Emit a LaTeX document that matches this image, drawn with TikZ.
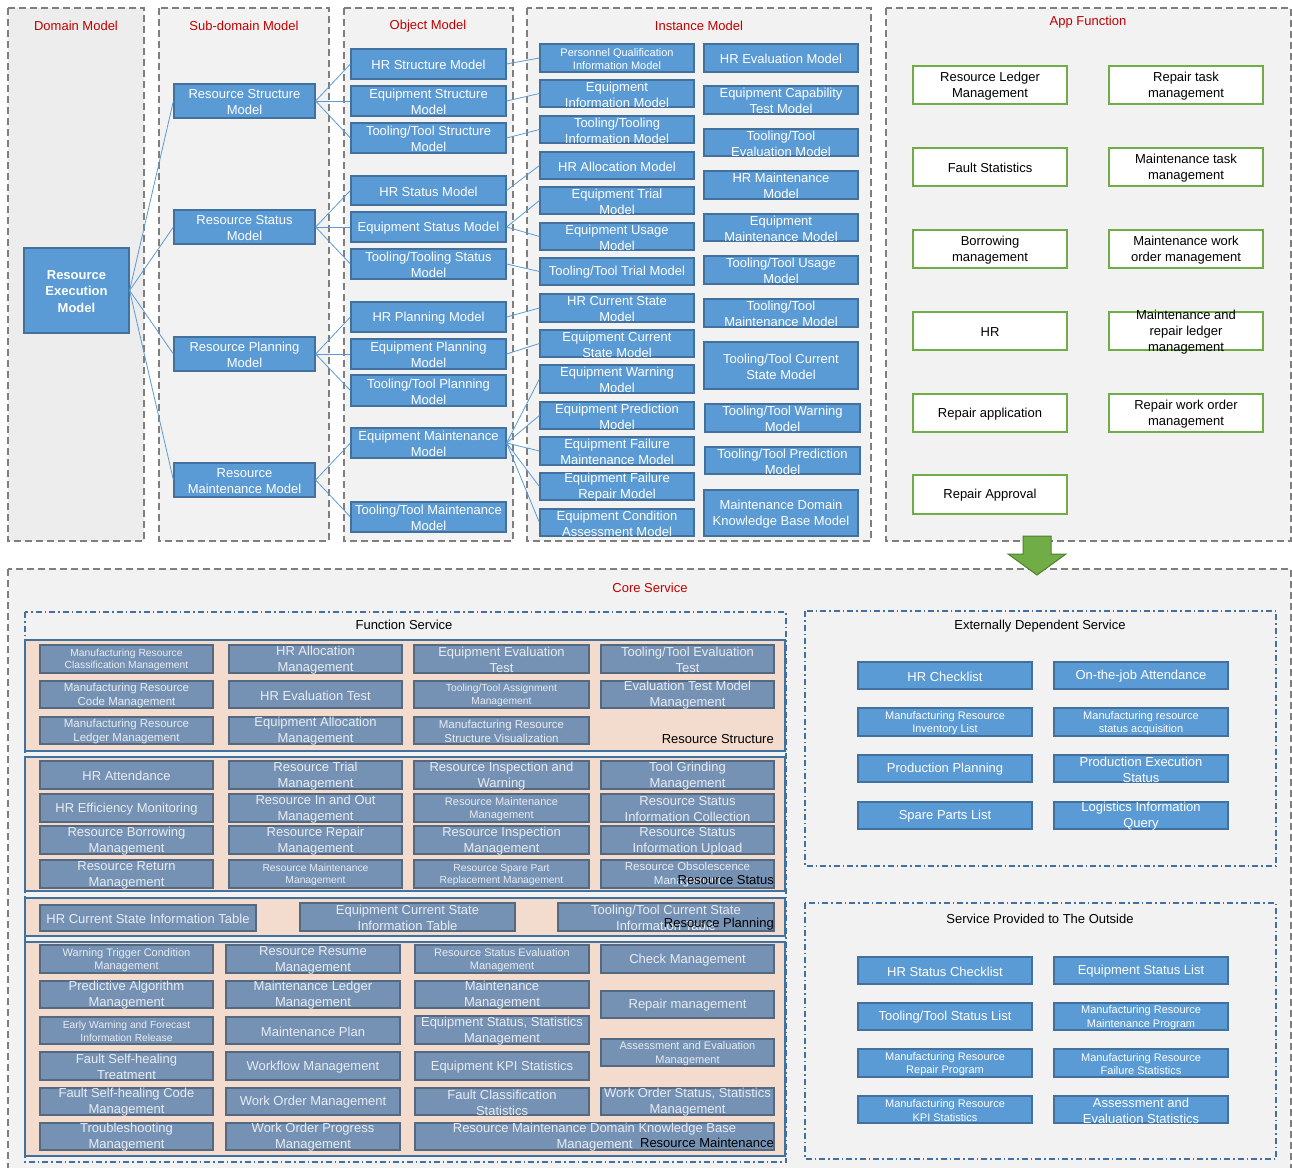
\documentclass[tikz,border=0pt]{standalone}
\usepackage{fontspec}
\setmainfont{Liberation Sans}
\definecolor{pbg}{HTML}{F2F2F2}
\definecolor{pbgd}{HTML}{EDEDED}
\definecolor{dgray}{HTML}{7F7F7F}
\definecolor{tred}{HTML}{C00000}
\definecolor{bfill}{HTML}{5B9BD5}
\definecolor{bdark}{HTML}{41719C}
\definecolor{ggreen}{HTML}{70AD47}
\definecolor{gdark}{HTML}{507E32}
\definecolor{sfill}{RGB}{117,146,180}
\definecolor{sdark}{RGB}{84,104,128}
\definecolor{stext}{RGB}{232,236,242}
\definecolor{sblue}{HTML}{41719C}
\definecolor{peach}{RGB}{243,220,206}
% font sizes
\newcommand\fA{\fontsize{13}{16}\selectfont}
\newcommand\fB{\fontsize{11}{13.5}\selectfont}
\newcommand\fC{\fontsize{10.3}{12.5}\selectfont}
\newcommand\fD{\fontsize{11.5}{14}\selectfont}
\newcommand\fR{\bfseries\fontsize{13}{16.5}\selectfont}
% box: [font]{kind}{name}{x1}{y1}{x2}{y2}{text}
\newcommand\bx[8][\fA]{%
  \node[#2, minimum width={#6-#4}, minimum height={#7-#5}] (#3) at ({(#4+#6)/2},{(#5+#7)/2}) {};%
  \node[#2 txt, font=#1] at (#3.center) {#8};}
\tikzset{
  panel/.style={draw=dgray, dash pattern=on 7pt off 4pt, line width=1.8pt, fill=pbg},
  ttl/.style={text=tred, font=\fA, inner sep=0, yshift=-1pt},
  hdr/.style={text=black, font=\fA, inner sep=0, yshift=-1pt},
  bb/.style={draw=bdark, fill=bfill, line width=1.2pt, inner sep=0},
  bb txt/.style={text=white, align=center, inner sep=0, yshift=-1pt},
  gb/.style={draw=ggreen, fill=white, line width=1.5pt, inner sep=0},
  gb txt/.style={text=black, align=center, inner sep=0, yshift=-1pt},
  sb/.style={draw=sdark, fill=sfill, line width=1.2pt, inner sep=0},
  sb txt/.style={text=stext, align=center, inner sep=0, yshift=-1pt},
  conn/.style={draw=bfill, line width=0.8pt},
  svc/.style={draw=sblue, line width=1.2pt, dash pattern=on 6pt off 3pt on 1.5pt off 3pt, fill=pbg},
  band/.style={draw=sblue, fill=peach, line width=1.2pt},
  bandlbl/.style={anchor=east, font=\fA, text=black, inner sep=0, yshift=-1pt},
}
\begin{document}
\begin{tikzpicture}[x=1pt,y=-1pt]
\useasboundingbox (0,0) rectangle (1292,1167);
\fill[white] (0,0) rectangle (1292,1167);

% ---------- upper panels ----------
\path[panel, fill=pbgd] (8,8) rectangle (144,541);
\path[panel] (159,8) rectangle (329,541);
\path[panel] (344,8) rectangle (513,541);
\path[panel] (527,8) rectangle (871,541);
\path[panel] (886,8) rectangle (1291,541);
\node[ttl] (t-dom) at (76,25) {Domain Model};
\node[ttl] (t-sub) at (244,25) {Sub-domain Model};
\node[ttl] (t-obj) at (428,25) {Object Model};
\node[ttl] (t-ins) at (699,25) {Instance Model};
\node[ttl] (t-app) at (1088,21) {App Function};

% domain
\bx[\fR]{bb}{rem}{24}{248}{129}{333}{Resource\\Execution\\Model}
% sub-domain
\bx{bb}{rs}{174}{84}{315}{118}{Resource Structure\\Model}
\bx{bb}{rst}{174}{210}{315}{244}{Resource Status\\Model}
\bx{bb}{rp}{174}{337}{315}{371}{Resource Planning\\Model}
\bx{bb}{rm}{174}{463}{315}{497}{Resource\\Maintenance Model}
% object
\bx{bb}{o1}{351}{49}{506}{79}{HR Structure Model}
\bx{bb}{o2}{351}{86}{506}{116}{Equipment Structure\\Model}
\bx{bb}{o3}{351}{123}{506}{153}{Tooling/Tool Structure\\Model}
\bx{bb}{o4}{351}{176}{506}{205}{HR Status Model}
\bx{bb}{o5}{351}{212}{506}{242}{Equipment Status Model}
\bx{bb}{o6}{351}{249}{506}{279}{Tooling/Tooling Status\\Model}
\bx{bb}{o7}{351}{302}{506}{332}{HR Planning Model}
\bx{bb}{o8}{351}{339}{506}{369}{Equipment Planning\\Model}
\bx{bb}{o9}{351}{375}{506}{406}{Tooling/Tool Planning\\Model}
\bx{bb}{o10}{351}{428}{506}{458}{Equipment Maintenance\\Model}
\bx{bb}{o11}{351}{502}{506}{532}{Tooling/Tool Maintenance\\Model}
% instance, left column
\bx[\fB]{bb}{i1}{540}{44}{694}{72}{Personnel Qualification\\Information Model}
\bx{bb}{i2}{540}{80}{694}{107}{Equipment\\Information Model}
\bx{bb}{i3}{540}{116}{694}{143}{Tooling/Tooling\\Information Model}
\bx{bb}{i4}{540}{152}{694}{179}{HR Allocation Model}
\bx{bb}{i5}{540}{187}{694}{214}{Equipment Trial\\Model}
\bx{bb}{i6}{540}{223}{694}{250}{Equipment Usage\\Model}
\bx{bb}{i7}{540}{258}{694}{285}{Tooling/Tool Trial Model}
\bx{bb}{i8}{540}{294}{694}{322}{HR Current State\\Model}
\bx{bb}{i9}{540}{330}{694}{357}{Equipment Current\\State Model}
\bx{bb}{i10}{540}{365}{694}{393}{Equipment Warning\\Model}
\bx{bb}{i11}{540}{402}{694}{429}{Equipment Prediction\\Model}
\bx{bb}{i12}{540}{437}{694}{465}{Equipment Failure\\Maintenance Model}
\bx{bb}{i13}{540}{473}{694}{500}{Equipment Failure\\Repair Model}
\bx{bb}{i14}{540}{509}{694}{536}{Equipment Condition\\Assessment Model}
% instance, right column
\bx{bb}{j1}{704}{44}{858}{72}{HR Evaluation Model}
\bx{bb}{j2}{704}{86}{858}{114}{Equipment Capability\\Test Model}
\bx{bb}{j3}{704}{129}{858}{156}{Tooling/Tool\\Evaluation Model}
\bx{bb}{j4}{704}{171}{858}{199}{HR Maintenance\\Model}
\bx{bb}{j5}{704}{214}{858}{241}{Equipment\\Maintenance Model}
\bx{bb}{j6}{704}{256}{858}{284}{Tooling/Tool Usage\\Model}
\bx{bb}{j7}{704}{299}{858}{327}{Tooling/Tool\\Maintenance Model}
\bx{bb}{j8}{704}{342}{858}{389}{Tooling/Tool Current\\State Model}
\bx{bb}{j9}{705}{404}{860}{432}{Tooling/Tool Warning\\Model}
\bx{bb}{j10}{705}{447}{860}{474}{Tooling/Tool Prediction\\Model}
\bx{bb}{j11}{704}{490}{858}{536}{Maintenance Domain\\Knowledge Base Model}

% connectors
\foreach \t in {rs,rst,rp,rm} \draw[conn] (rem.east) -- (\t.west);
\foreach \t in {o1,o2,o3} \draw[conn] (rs.east) -- (\t.west);
\foreach \t in {o4,o5,o6} \draw[conn] (rst.east) -- (\t.west);
\foreach \t in {o7,o8,o9} \draw[conn] (rp.east) -- (\t.west);
\foreach \t in {o10,o11} \draw[conn] (rm.east) -- (\t.west);
\draw[conn] (o1.east) -- (i1.west);
\draw[conn] (o2.east) -- (i2.west);
\draw[conn] (o3.east) -- (i3.west);
\draw[conn] (o4.east) -- (i4.west);
\draw[conn] (o5.east) -- (i5.west);
\draw[conn] (o5.east) -- (i6.west);
\draw[conn] (o6.east) -- (i7.west);
\draw[conn] (o7.east) -- (i8.west);
\draw[conn] (o8.east) -- (i9.west);
\foreach \t in {i10,i11,i12,i13,i14} \draw[conn] (o10.east) -- (\t.west);

% app functions
\bx{gb}{a1}{913}{66}{1067}{104}{Resource Ledger\\Management}
\bx{gb}{a2}{913}{148}{1067}{186}{Fault Statistics}
\bx{gb}{a3}{913}{230}{1067}{268}{Borrowing\\management}
\bx{gb}{a4}{913}{312}{1067}{350}{HR}
\bx{gb}{a5}{913}{394}{1067}{432}{Repair application}
\bx{gb}{a6}{913}{475}{1067}{514}{Repair Approval}
\bx{gb}{b1}{1109}{66}{1263}{104}{Repair task\\management}
\bx{gb}{b2}{1109}{148}{1263}{186}{Maintenance task\\management}
\bx{gb}{b3}{1109}{230}{1263}{268}{Maintenance work\\order management}
\bx{gb}{b4}{1109}{312}{1263}{350}{Maintenance and\\repair ledger\\management}
\bx{gb}{b5}{1109}{394}{1263}{432}{Repair work order\\management}

% ---------- core service ----------
\path[panel] (8,569) rectangle (1291,1180);
\fill[ggreen, draw=gdark, line width=1pt] (1023,536) -- (1051,536) -- (1051,554) -- (1066,554)
  -- (1037,575) -- (1008,554) -- (1023,554) -- cycle;
\node[ttl] (t-core) at (650,587) {Core Service};

% function service
\path[svc] (25,612) rectangle (786,1162);
\node[hdr] (t-fun) at (404,624) {Function Service};
\path[band] (25,640) rectangle (785,751);
\path[band] (25,757) rectangle (785,891);
\path[band] (25,898) rectangle (785,936);
\path[band] (25,942) rectangle (785,1156);

% resource structure
\bx[\fC]{sb}{s11}{40}{645}{213}{673}{Manufacturing Resource\\Classification Management}
\bx{sb}{s12}{229}{645}{402}{673}{HR Allocation\\Management}
\bx{sb}{s13}{414}{645}{589}{673}{Equipment Evaluation\\Test}
\bx{sb}{s14}{601}{645}{774}{673}{Tooling/Tool Evaluation\\Test}
\bx[\fD]{sb}{s21}{40}{681}{213}{708}{Manufacturing Resource\\Code Management}
\bx{sb}{s22}{229}{681}{402}{708}{HR Evaluation Test}
\bx[\fC]{sb}{s23}{414}{681}{589}{708}{Tooling/Tool Assignment\\Management}
\bx{sb}{s24}{601}{681}{774}{708}{Evaluation Test Model\\Management}
\bx[\fD]{sb}{s31}{40}{717}{213}{744}{Manufacturing Resource\\Ledger Management}
\bx{sb}{s32}{229}{717}{402}{744}{Equipment Allocation\\Management}
\bx[\fD]{sb}{s33}{414}{717}{589}{744}{Manufacturing Resource\\Structure Visualization}
\node[bandlbl] (l-str) at (774,738) {Resource Structure};

% resource status
\bx{sb}{t11}{40}{761}{213}{789}{HR Attendance}
\bx{sb}{t12}{229}{761}{402}{789}{Resource Trial\\Management}
\bx{sb}{t13}{414}{761}{589}{789}{Resource Inspection and\\Warning}
\bx{sb}{t14}{601}{761}{774}{789}{Tool Grinding\\Management}
\bx{sb}{t21}{40}{794}{213}{822}{HR Efficiency Monitoring}
\bx{sb}{t22}{229}{794}{402}{822}{Resource In and Out\\Management}
\bx[\fB]{sb}{t23}{414}{794}{589}{822}{Resource Maintenance\\Management}
\bx{sb}{t24}{601}{794}{774}{822}{Resource Status\\Information Collection}
\bx{sb}{t31}{40}{826}{213}{854}{Resource Borrowing\\Management}
\bx{sb}{t32}{229}{826}{402}{854}{Resource Repair\\Management}
\bx{sb}{t33}{414}{826}{589}{854}{Resource Inspection\\Management}
\bx{sb}{t34}{601}{826}{774}{854}{Resource Status\\Information Upload}
\bx{sb}{t41}{40}{860}{213}{888}{Resource Return\\Management}
\bx[\fC]{sb}{t42}{229}{860}{402}{888}{Resource Maintenance\\Management}
\bx[\fC]{sb}{t43}{414}{860}{589}{888}{Resource Spare Part\\Replacement Management}
\bx[\fD]{sb}{t44}{601}{860}{774}{888}{Resource Obsolescence\\Management}
\node[bandlbl] (l-sta) at (774,879) {Resource Status};

% resource planning
\bx{sb}{p1}{40}{905}{256}{931}{HR Current State Information Table}
\bx{sb}{p2}{300}{903}{515}{931}{Equipment Current State\\Information Table}
\bx{sb}{p3}{558}{903}{774}{931}{Tooling/Tool Current State\\Information Table}
\node[bandlbl] (l-pla) at (774,923) {Resource Planning};

% resource maintenance
\bx[\fB]{sb}{m11}{40}{945}{213}{973}{Warning Trigger Condition\\Management}
\bx{sb}{m21}{40}{981}{213}{1008}{Predictive Algorithm\\Management}
\bx[\fC]{sb}{m31}{40}{1017}{213}{1044}{Early Warning and Forecast\\Information Release}
\bx{sb}{m41}{40}{1052}{213}{1080}{Fault Self-healing\\Treatment}
\bx{sb}{m51}{40}{1088}{213}{1115}{Fault Self-healing Code\\Management}
\bx{sb}{m61}{40}{1123}{213}{1150}{Troubleshooting\\Management}
\bx{sb}{m12}{226}{945}{400}{973}{Resource Resume\\Management}
\bx{sb}{m22}{226}{981}{400}{1008}{Maintenance Ledger\\Management}
\bx{sb}{m32}{226}{1017}{400}{1044}{Maintenance Plan}
\bx{sb}{m42}{226}{1052}{400}{1080}{Workflow Management}
\bx{sb}{m52}{226}{1088}{400}{1115}{Work Order Management}
\bx{sb}{m62}{226}{1123}{400}{1150}{Work Order Progress\\Management}
\bx[\fB]{sb}{m13}{415}{945}{589}{973}{Resource Status Evaluation\\Management}
\bx{sb}{m23}{415}{981}{589}{1008}{Maintenance\\Management}
\bx{sb}{m33}{415}{1016}{589}{1044}{Equipment Status, Statistics\\Management}
\bx{sb}{m43}{415}{1052}{589}{1080}{Equipment KPI Statistics}
\bx{sb}{m53}{415}{1088}{589}{1115}{Fault Classification\\Statistics}
\bx{sb}{m14}{601}{945}{774}{973}{Check Management}
\bx{sb}{m24}{601}{991}{774}{1018}{Repair management}
\bx[\fB]{sb}{m34}{601}{1039}{774}{1066}{Assessment and Evaluation\\Management}
\bx{sb}{m54}{601}{1088}{774}{1115}{Work Order Status, Statistics\\Management}
\bx{sb}{m63}{415}{1123}{774}{1150}{Resource Maintenance Domain Knowledge Base\\Management}
\node[bandlbl] (l-mai) at (774,1142) {Resource Maintenance};

% externally dependent service
\path[svc] (805,611) rectangle (1276,866);
\node[hdr] (t-ext) at (1040,625) {Externally Dependent Service};
\bx{bb}{e11}{858}{662}{1032}{689}{HR Checklist}
\bx{bb}{e12}{1054}{662}{1228}{689}{On-the-job Attendance}
\bx[\fB]{bb}{e21}{858}{708}{1032}{736}{Manufacturing Resource\\Inventory List}
\bx[\fB]{bb}{e22}{1054}{708}{1228}{736}{Manufacturing resource\\status acquisition}
\bx{bb}{e31}{858}{755}{1032}{782}{Production Planning}
\bx{bb}{e32}{1054}{755}{1228}{782}{Production Execution\\Status}
\bx{bb}{e41}{858}{802}{1032}{829}{Spare Parts List}
\bx{bb}{e42}{1054}{802}{1228}{829}{Logistics Information\\Query}

% service provided to the outside
\path[svc] (805,903) rectangle (1276,1159);
\node[hdr] (t-out) at (1040,918) {Service Provided to The Outside};
\bx{bb}{u11}{858}{957}{1032}{984}{HR Status Checklist}
\bx{bb}{u12}{1054}{957}{1228}{984}{Equipment Status List}
\bx{bb}{u21}{858}{1003}{1032}{1030}{Tooling/Tool Status List}
\bx[\fB]{bb}{u22}{1054}{1003}{1228}{1030}{Manufacturing Resource\\Maintenance Program}
\bx[\fB]{bb}{u31}{858}{1049}{1032}{1077}{Manufacturing Resource\\Repair Program}
\bx[\fB]{bb}{u32}{1054}{1049}{1228}{1077}{Manufacturing Resource\\Failure Statistics}
\bx[\fB]{bb}{u41}{858}{1096}{1032}{1123}{Manufacturing Resource\\KPI Statistics}
\bx{bb}{u42}{1054}{1096}{1228}{1123}{Assessment and\\Evaluation Statistics}
\end{tikzpicture}
\end{document}
